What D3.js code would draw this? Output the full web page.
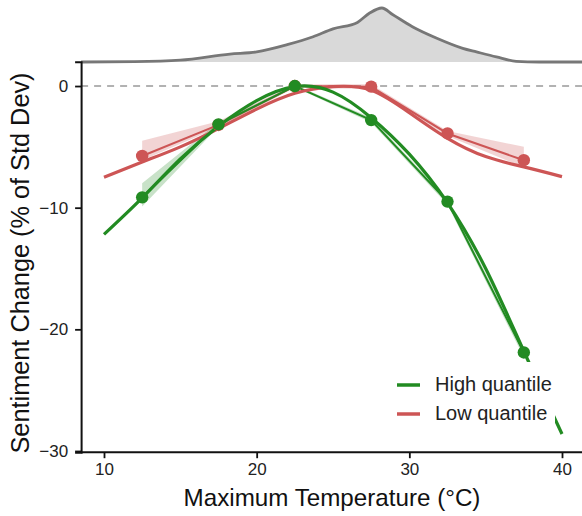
<!DOCTYPE html>
<html>
<head>
<meta charset="utf-8">
<script src="https://cdn.jsdelivr.net/npm/d3@7"></script>
<style>
  html, body { margin: 0; padding: 0; background: #fff; }
  svg { display: block; font-family: "Liberation Sans", Arial, Helvetica, sans-serif; }
</style>
</head>
<body>
<svg id="chart" width="582" height="516"></svg>
<script>
// ---------- data ----------
const binTemps = [12.5, 17.5, 22.5, 27.5, 32.5, 37.5];
const highBin = [-9.15, -3.15, 0.0, -2.8, -9.5, -21.9];
const highBinLo = [-9.9, -3.35, -0.1, -3.0, -9.75, -22.3];
const highBinHi = [-8.0, -2.95, 0.1, -2.6, -9.25, -21.5];
const lowBin = [-5.75, -3.2, 0.0, -0.05, -3.9, -6.1];
const lowBinLo = [-6.1, -3.4, -0.15, -0.25, -4.1, -6.7];
const lowBinHi = [-4.5, -2.9, 0.15, 0.15, -3.7, -5.0];

const fitTemps = [10, 12.5, 15, 17.5, 20, 22.5, 25, 27.5, 30, 32.5, 35, 37.5, 40];
const highFit = [-12.2, -9.2, -6.0, -3.3, -1.2, -0.05, -0.5, -2.6, -5.6, -9.6, -15.0, -21.8, -28.6];
const lowFit = [-7.5, -6.25, -5.0, -3.5, -1.9, -0.6, -0.05, -0.35, -2.2, -4.3, -5.8, -6.65, -7.45];

const densTemps = [8.5, 12, 15, 18.25, 20, 22, 23.7, 25, 26.6, 27.4, 28.2, 28.9, 30.2, 31.8, 33.5, 34.4, 35.7, 37, 38.5, 41.5];
const densVals = [0, 0.0005, 0.0025, 0.011, 0.014, 0.024, 0.035, 0.046, 0.055, 0.068, 0.075, 0.066, 0.049, 0.033, 0.019, 0.014, 0.007, 0.001, 0, 0];

const xTicks = [10, 20, 30, 40];
const yTicks = [0, -10, -20, -30];
const seriesNames = ["High quantile", "Low quantile"];
const seriesColors = ["#228b22", "#cd5555"];

// ---------- scales ----------
const svg = d3.select("#chart");
const x = d3.scaleLinear().domain([8.5, 41.5]).range([81.1, 584.9]);
const y = d3.scaleLinear().domain([-30.1, 2]).range([452.2, 61.7]);
const yD = d3.scaleLinear().domain([0, 0.075]).range([62, 8]);

// ---------- density (marginal) ----------
const dens = densTemps.map((t, i) => ({t, v: densVals[i]}));
svg.append("path")
  .datum(dens)
  .attr("d", d3.area().x(d => x(d.t)).y0(yD(0)).y1(d => yD(d.v)).curve(d3.curveMonotoneX))
  .attr("fill", "#d9d9d9");
svg.append("path")
  .datum(dens)
  .attr("d", d3.line().x(d => x(d.t)).y(d => yD(d.v)).curve(d3.curveMonotoneX))
  .attr("fill", "none").attr("stroke", "#777").attr("stroke-width", 2.8);

// ---------- zero line ----------
svg.append("line")
  .attr("x1", x(8.5)).attr("x2", 582).attr("y1", y(0)).attr("y2", y(0))
  .attr("stroke", "#999").attr("stroke-width", 1.6).attr("stroke-dasharray", "7,6");

// ---------- series ----------
const series = [
  {name: seriesNames[0], color: seriesColors[0], bin: highBin, lo: highBinLo, hi: highBinHi, fit: highFit},
  {name: seriesNames[1], color: seriesColors[1], bin: lowBin, lo: lowBinLo, hi: lowBinHi, fit: lowFit}
];

// ribbons
series.slice().reverse().forEach(s => {
  const d = binTemps.map((t, i) => ({t, lo: s.lo[i], hi: s.hi[i]}));
  svg.append("path").datum(d)
    .attr("d", d3.area().x(p => x(p.t)).y0(p => y(p.lo)).y1(p => y(p.hi)))
    .attr("fill", s.color).attr("fill-opacity", 0.25);
});
// thin connecting lines
series.slice().reverse().forEach(s => {
  const d = binTemps.map((t, i) => ({t, v: s.bin[i]}));
  svg.append("path").datum(d)
    .attr("d", d3.line().x(p => x(p.t)).y(p => y(p.v)))
    .attr("fill", "none").attr("stroke", s.color).attr("stroke-width", 2);
});
// smooth fits
series.slice().reverse().forEach(s => {
  const d = fitTemps.map((t, i) => ({t, v: s.fit[i]}));
  svg.append("path").datum(d)
    .attr("d", d3.line().x(p => x(p.t)).y(p => y(p.v)).curve(d3.curveNatural))
    .attr("fill", "none").attr("stroke", s.color).attr("stroke-width", 3.2);
});
// points
series.slice().reverse().forEach(s => {
  svg.append("g").selectAll("circle")
    .data(binTemps.map((t, i) => ({t, v: s.bin[i]})))
    .join("circle")
    .attr("cx", p => x(p.t)).attr("cy", p => y(p.v)).attr("r", 6.2)
    .attr("fill", s.color);
});

// ---------- axes ----------
const xAxis = svg.append("g").attr("transform", `translate(0,${y(-30.1)})`)
  .call(d3.axisBottom(x).tickValues(xTicks).tickSize(6).tickPadding(5).tickFormat(d3.format("d")));
const yAxis = svg.append("g").attr("transform", `translate(${x(8.5)},0)`)
  .call(d3.axisLeft(y).tickValues(yTicks).tickSize(6).tickPadding(7).tickFormat(d3.format("d")));
[xAxis, yAxis].forEach(a => {
  a.select(".domain").attr("stroke", "#111").attr("stroke-width", 2);
  a.selectAll(".tick line").attr("stroke", "#111").attr("stroke-width", 1.8);
  a.selectAll(".tick text").attr("fill", "#222").style("font-size", "17px")
    .style("font-family", '"Liberation Sans", Arial, sans-serif');
});
xAxis.select(".domain").attr("d", `M${x(8.5)},0H582`);

// ---------- titles ----------
svg.append("text")
  .attr("x", 332).attr("y", 506)
  .attr("text-anchor", "middle").attr("fill", "#111")
  .style("font-size", "24.2px")
  .text("Maximum Temperature (°C)");
svg.append("text")
  .attr("transform", "translate(29,263) rotate(-90)")
  .attr("text-anchor", "middle").attr("fill", "#111")
  .style("font-size", "25.3px")
  .text("Sentiment Change (% of Std Dev)");

// ---------- legend ----------
const lg = svg.append("g");
lg.append("rect").attr("x", 386).attr("y", 362).attr("width", 169).attr("height", 70).attr("fill", "#fff");
series.forEach((s, i) => {
  const cy = 385 + i * 29;
  lg.append("line").attr("x1", 397).attr("x2", 420).attr("y1", cy).attr("y2", cy)
    .attr("stroke", s.color).attr("stroke-width", 3.5);
  lg.append("text").attr("x", 435).attr("y", cy + 1).attr("dominant-baseline", "middle")
    .attr("fill", "#222").style("font-size", "20px").text(s.name);
});
</script>
</body>
</html>
